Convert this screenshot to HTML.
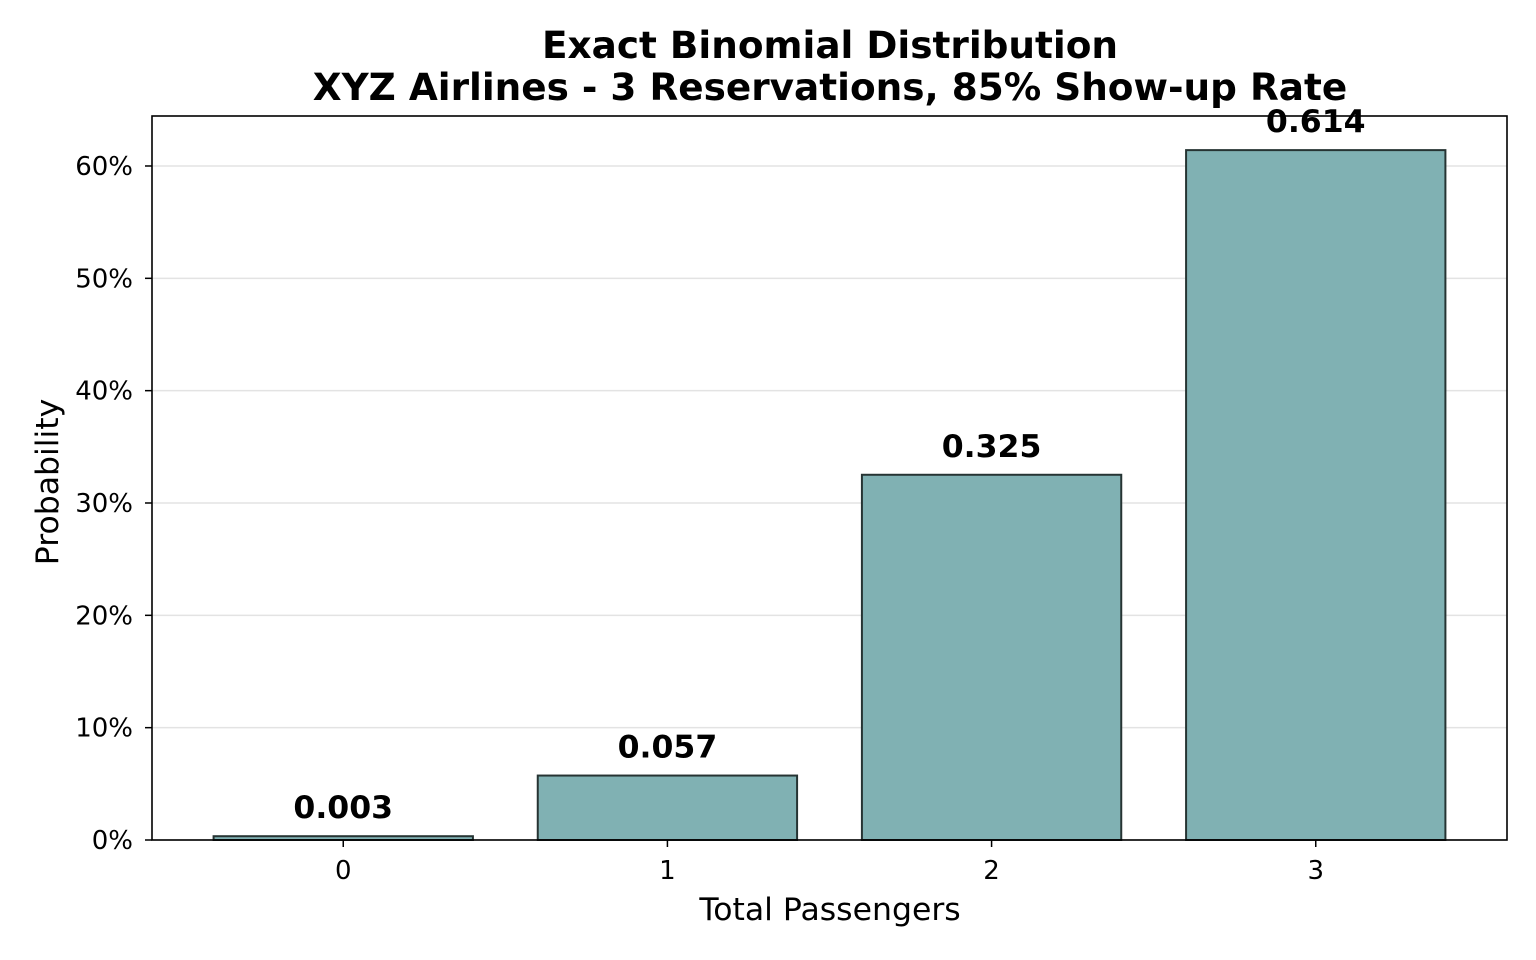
<!DOCTYPE html>
<html><head><meta charset="utf-8"><style>
body{margin:0;background:#fff;}
svg{display:block;font-family:"DejaVu Sans","Liberation Sans",sans-serif;}
</style></head><body>
<svg id="chart" width="1536" height="960">
<text x="830" y="58" text-anchor="middle" font-size="37.4" font-weight="bold">Exact Binomial Distribution</text>
<text x="830" y="100" text-anchor="middle" font-size="37.4" font-weight="bold">XYZ Airlines - 3 Reservations, 85% Show-up Rate</text>
<g id="grid"></g><g id="bars"></g><g id="yt"></g><g id="xt"></g>
<rect x="152" y="116" width="1355" height="724" fill="none" stroke="#000" stroke-width="1.6"/>
<text x="830" y="920" text-anchor="middle" font-size="31.5">Total Passengers</text>
<text transform="translate(58,482) rotate(-90)" text-anchor="middle" font-size="31.5">Probability</text>
</svg>
<script>
const categories=["0","1","2","3"];
const probs=[0.003375,0.057375,0.325125,0.614125];
const valueLabels=["0.003","0.057","0.325","0.614"];
const yTicks=[0,0.1,0.2,0.3,0.4,0.5,0.6];
const yTickLabels=["0%","10%","20%","30%","40%","50%","60%"];
const NS="http://www.w3.org/2000/svg";
const X0=152,X1=1507,Y0=840,Y1=116,xmin=-0.59,xmax=3.59,ymin=0,ymax=0.6445;
const xs=v=>X0+(v-xmin)/(xmax-xmin)*(X1-X0);
const ys=v=>Y0-(v-ymin)/(ymax-ymin)*(Y0-Y1);
function mk(t,a,p){const e=document.createElementNS(NS,t);for(const k in a)e.setAttribute(k,a[k]);p.appendChild(e);return e;}
const grid=document.getElementById('grid'),yt=document.getElementById('yt'),xt=document.getElementById('xt'),bars=document.getElementById('bars');
yTicks.forEach((v,i)=>{
 const g=mk('line',{x1:X0,x2:X1,y1:ys(v),y2:ys(v),stroke:'#e3e3e3','stroke-width':1.5},grid);
 
 
 const tk=mk('line',{x1:X0-7,x2:X0,y1:ys(v),y2:ys(v),stroke:'#000','stroke-width':1.5},yt);
 
 
 const t=mk('text',{x:X0-19,y:ys(v)+9,'text-anchor':'end','font-size':26},yt);
 t.textContent=yTickLabels[i];
 
 
});
categories.forEach((c,i)=>{
 const cx=xs(i),w=xs(0.4)-xs(-0.4);
 const r=mk('rect',{x:cx-w/2,y:ys(probs[i]),width:w,height:ys(0)-ys(probs[i]),fill:'#80b1b3',stroke:'#263433','stroke-width':2},bars);
 
 
 const l=mk('text',{x:cx,y:ys(probs[i])-18,'text-anchor':'middle','font-size':31.5,'font-weight':'bold'},bars);
 l.textContent=valueLabels[i];
 
 
 const tk=mk('line',{x1:cx,x2:cx,y1:Y0,y2:Y0+7,stroke:'#000','stroke-width':1.5},xt);
 
 
 const t=mk('text',{x:cx,y:Y0+39,'text-anchor':'middle','font-size':26},xt);
 t.textContent=c;
 
 
});
</script>
</body></html>
